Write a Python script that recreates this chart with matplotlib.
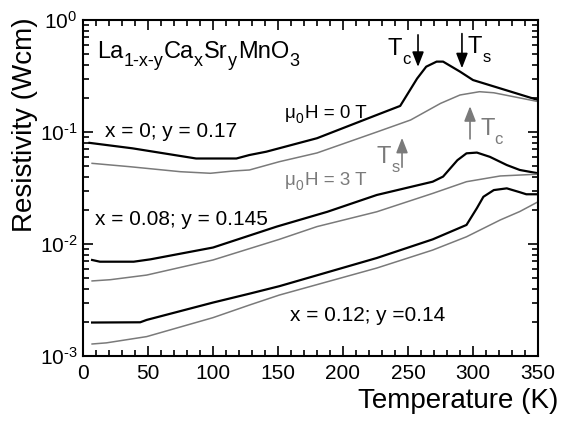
import numpy as np
import matplotlib
matplotlib.use('Agg')
import matplotlib.pyplot as plt
from matplotlib.transforms import IdentityTransform
from matplotlib.ticker import LogLocator, MultipleLocator, NullFormatter, FuncFormatter

plt.rcParams['font.family'] = ['Liberation Sans', 'DejaVu Sans']
plt.rcParams['mathtext.fontset'] = 'custom'
plt.rcParams['mathtext.rm'] = 'Liberation Sans'
plt.rcParams['mathtext.it'] = 'Liberation Sans'

# ---- data (T in K, resistivity in Ohm cm) ----
# x = 0; y = 0.17
t_a0 = [5, 38, 87, 118, 128, 141, 180, 226, 244, 257, 264, 272, 277, 290, 300, 321, 350]
r_a0 = [0.080, 0.0715, 0.058, 0.058, 0.0623, 0.0667, 0.088, 0.142, 0.171, 0.30, 0.383, 0.425, 0.425, 0.346, 0.291, 0.245, 0.193]
t_a3 = [7, 36, 75, 98, 116, 128, 151, 180, 226, 252, 275, 290, 305, 316, 350]
r_a3 = [0.0525, 0.049, 0.0442, 0.0428, 0.0449, 0.0458, 0.0543, 0.065, 0.100, 0.128, 0.18, 0.214, 0.229, 0.224, 0.187]

# x = 0.08; y = 0.145
t_b0 = [7, 13, 39, 52, 100, 149, 188, 226, 269, 277, 288, 295, 303, 313, 326, 336, 350]
r_b0 = [0.0072, 0.00695, 0.00695, 0.0073, 0.0093, 0.0143, 0.0194, 0.0274, 0.036, 0.040, 0.056, 0.0645, 0.0655, 0.060, 0.0507, 0.0458, 0.0428]
t_b3 = [7, 21, 49, 100, 151, 180, 226, 269, 295, 321, 350]
r_b3 = [0.00468, 0.0048, 0.00528, 0.0072, 0.0110, 0.0143, 0.0194, 0.0283, 0.036, 0.0405, 0.042]

# x = 0.12; y = 0.14
t_c0 = [7, 44, 49, 100, 128, 151, 226, 269, 295, 303, 308, 316, 326, 336, 341, 350]
r_c0 = [0.00199, 0.0020, 0.0021, 0.0030, 0.0036, 0.0042, 0.0075, 0.011, 0.0148, 0.0209, 0.0264, 0.0303, 0.0314, 0.029, 0.0278, 0.0278]
t_c3 = [7, 18, 49, 100, 128, 151, 226, 269, 295, 321, 336, 350]
r_c3 = [0.00128, 0.00131, 0.00149, 0.0022, 0.00285, 0.0035, 0.0061, 0.00883, 0.0116, 0.0164, 0.0195, 0.0238]

GRAY = '#7a7a7a'

fig = plt.figure(figsize=(5.61, 4.21), dpi=100)
ax = fig.add_axes([83 / 561, 1 - 356 / 421, 455 / 561, 336 / 421])

for t, r in [(t_a0, r_a0), (t_b0, r_b0), (t_c0, r_c0)]:
    ax.plot(t, r, color='black', lw=1.6)
for t, r in [(t_a3, r_a3), (t_b3, r_b3), (t_c3, r_c3)]:
    ax.plot(t, r, color=GRAY, lw=1.1)


def decade_label(v, pos):
    e = int(round(np.log10(v)))
    sign = '\u2010' if e < 0 else ''
    return '10$^{\\mathregular{%s%d}}$' % (sign, abs(e))


ax.set_yscale('log')
ax.set_xlim(0, 350)
ax.set_ylim(1e-3, 1)
ax.xaxis.set_major_locator(MultipleLocator(50))
ax.xaxis.set_minor_locator(MultipleLocator(10))
ax.yaxis.set_major_locator(LogLocator(base=10, numticks=10))
ax.yaxis.set_minor_locator(LogLocator(base=10, subs=np.arange(2, 10), numticks=10))
ax.yaxis.set_major_formatter(FuncFormatter(decade_label))
ax.yaxis.set_minor_formatter(NullFormatter())
ax.tick_params(which='both', direction='in', top=True, right=True, width=1.2)
ax.tick_params(which='major', length=7)
ax.tick_params(which='minor', length=4)
ax.tick_params(axis='x', labelsize=15, pad=6)
ax.tick_params(axis='y', labelsize=15, pad=4)
for s in ax.spines.values():
    s.set_linewidth(1.5)

ax.set_xlabel('Temperature (K)', fontsize=20, ha='right')
ax.xaxis.set_label_coords(1.045, -0.095)
ax.xaxis.label.set_va('top')
fig.text(25 / 561, 1 - 125 / 421, 'Resistivity (Wcm)', rotation=90, fontsize=20,
         ha='center', va='center')

renderer = fig.canvas.get_renderer()


def sub_label(x, y, runs, size, sub_size, drop, color='black'):
    """Write text with lowered subscripts; (x, y) is the baseline start in data units."""
    px, py = ax.transData.transform((x, y))
    for s, is_sub in runs:
        t = fig.text(px, py - (drop if is_sub else 0), s,
                     fontsize=sub_size if is_sub else size, color=color,
                     transform=IdentityTransform(), ha='left', va='baseline')
        px = t.get_window_extent(renderer).x1 + (1 if is_sub else 0)


sub_label(10.8, 0.458, [('La', 0), ('1-x-y', 1), ('Ca', 0), ('x', 1), ('Sr', 0),
                        ('y', 1), ('MnO', 0), ('3', 1)], 17, 13, 8)

ax.text(17, 0.1007, 'x = 0; y = 0.17', fontsize=15, va='center')
ax.text(9, 0.0167, 'x = 0.08; y = 0.145', fontsize=15, va='center')
ax.text(159, 0.00232, 'x = 0.12; y =0.14', fontsize=15, va='center')
sub_label(155.4, 0.133, [('\u03bc', 0), ('0', 1), ('H = 0 T', 0)], 13.5, 10, 5)
sub_label(155.4, 0.0336, [('\u03bc', 0), ('0', 1), ('H = 3 T', 0)], 13.5, 10, 5, color=GRAY)

# transition arrows
arrow_k = dict(arrowstyle='-|>,head_length=0.9,head_width=0.35', lw=1.2)
ax.annotate('', xy=(257.7, 0.36), xytext=(257.7, 0.78),
            arrowprops=dict(color='black', **arrow_k))
ax.annotate('', xy=(291.5, 0.35), xytext=(291.5, 0.8),
            arrowprops=dict(color='black', **arrow_k))
ax.annotate('', xy=(245.4, 0.094), xytext=(245.4, 0.0458),
            arrowprops=dict(color=GRAY, **arrow_k))
ax.annotate('', xy=(297.7, 0.18), xytext=(297.7, 0.082),
            arrowprops=dict(color=GRAY, **arrow_k))
sub_label(234.6, 0.487, [('T', 0), ('c', 1)], 17, 12, 9)
sub_label(296, 0.507, [('T', 0), ('s', 1)], 17, 12, 9)
sub_label(226, 0.0528, [('T', 0), ('s', 1)], 17, 12, 9, color=GRAY)
sub_label(305.4, 0.094, [('T', 0), ('c', 1)], 17, 12, 9, color=GRAY)

fig.savefig('out.png', dpi=100)
